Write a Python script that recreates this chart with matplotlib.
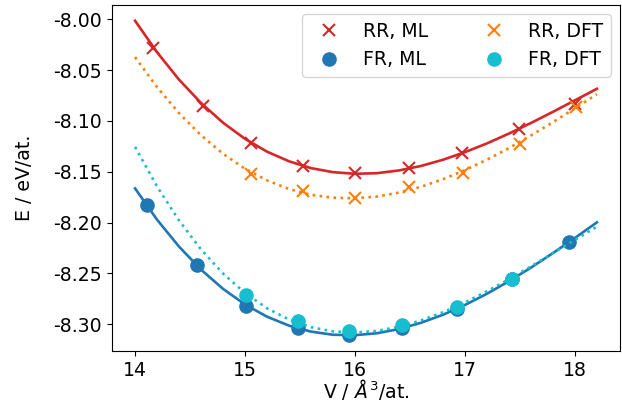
import matplotlib
matplotlib.use('Agg')
import matplotlib.pyplot as plt

plt.rcParams['font.size'] = 13.6
plt.rcParams['axes.unicode_minus'] = False

# Energie-Volumen-Punkte (Marker)
v_rr_ml = [14.166, 14.614, 15.058, 15.526, 16.004, 16.494, 16.977, 17.489, 18.004]
e_rr_ml = [-8.028, -8.085, -8.122, -8.144, -8.151, -8.146, -8.132, -8.108, -8.083]
v_rr_dft = [15.058, 15.526, 16.004, 16.494, 16.986, 17.497, 18.010]
e_rr_dft = [-8.152, -8.169, -8.176, -8.165, -8.151, -8.123, -8.086]
v_fr_ml = [14.112, 14.559, 15.012, 15.480, 15.950, 16.430, 16.926, 17.430, 17.944]
e_fr_ml = [-8.183, -8.242, -8.282, -8.304, -8.311, -8.304, -8.285, -8.256, -8.219]
v_fr_dft = [15.012, 15.480, 15.950, 16.430, 16.926, 17.430]
e_fr_dft = [-8.271, -8.297, -8.307, -8.301, -8.283, -8.256]

# Fitkurven E(V)
v_fit = [14.0, 14.2, 14.4, 14.6, 14.8, 15.0, 15.2, 15.4, 15.6, 15.8, 16.0,
         16.2, 16.4, 16.6, 16.8, 17.0, 17.2, 17.4, 17.6, 17.8, 18.0, 18.2]
fit_rr_ml = [-8.0013, -8.0323, -8.0593, -8.0823, -8.1017, -8.1176, -8.1302, -8.1397,
             -8.1464, -8.1504, -8.1520, -8.1514, -8.1487, -8.1443, -8.1382, -8.1307,
             -8.1221, -8.1124, -8.1020, -8.0910, -8.0797, -8.0683]
fit_rr_dft = [-8.0371, -8.0667, -8.0923, -8.1141, -8.1323, -8.1470, -8.1585, -8.1670,
              -8.1727, -8.1756, -8.1761, -8.1744, -8.1705, -8.1648, -8.1573, -8.1484,
              -8.1381, -8.1267, -8.1143, -8.1012, -8.0876, -8.0735]
fit_fr_ml = [-8.1664, -8.1972, -8.2237, -8.2464, -8.2653, -8.2807, -8.2927, -8.3015,
             -8.3074, -8.3105, -8.3109, -8.3090, -8.3049, -8.2987, -8.2908, -8.2812,
             -8.2701, -8.2578, -8.2444, -8.2301, -8.2152, -8.1998]
fit_fr_dft = [-8.1255, -8.1645, -8.1980, -8.2265, -8.2502, -8.2694, -8.2844, -8.2955,
              -8.3030, -8.3072, -8.3083, -8.3067, -8.3026, -8.2964, -8.2883, -8.2787,
              -8.2677, -8.2558, -8.2432, -8.2302, -8.2170, -8.2041]

fig = plt.figure(figsize=(6.22, 4.01), dpi=100)
ax = fig.add_axes([0.18, 0.1247, 0.8168, 0.8628])

ax.plot(v_fit, fit_rr_ml, '-', color='tab:red', lw=1.9)
ax.plot(v_rr_ml, e_rr_ml, 'x', color='tab:red', ms=9, mew=1.5, label='RR, ML')
ax.plot(v_fit, fit_fr_ml, '-', color='tab:blue', lw=1.9)
ax.plot(v_fr_ml, e_fr_ml, 'o', color='tab:blue', ms=9.5, label='FR, ML')
ax.plot(v_fit, fit_rr_dft, ':', color='tab:orange', lw=1.9)
ax.plot(v_rr_dft, e_rr_dft, 'x', color='tab:orange', ms=9, mew=1.5, label='RR, DFT')
ax.plot(v_fit, fit_fr_dft, ':', color='tab:cyan', lw=1.9)
ax.plot(v_fr_dft, e_fr_dft, 'o', color='tab:cyan', ms=9.5, label='FR, DFT')

ax.set_xlabel(r'V / $\AA^3$/at.', labelpad=-2)
ax.set_ylabel('E / eV/at.', labelpad=14)
ax.legend(ncol=2, loc='upper right', columnspacing=2.5)

fig.savefig('out.png', dpi=100)
